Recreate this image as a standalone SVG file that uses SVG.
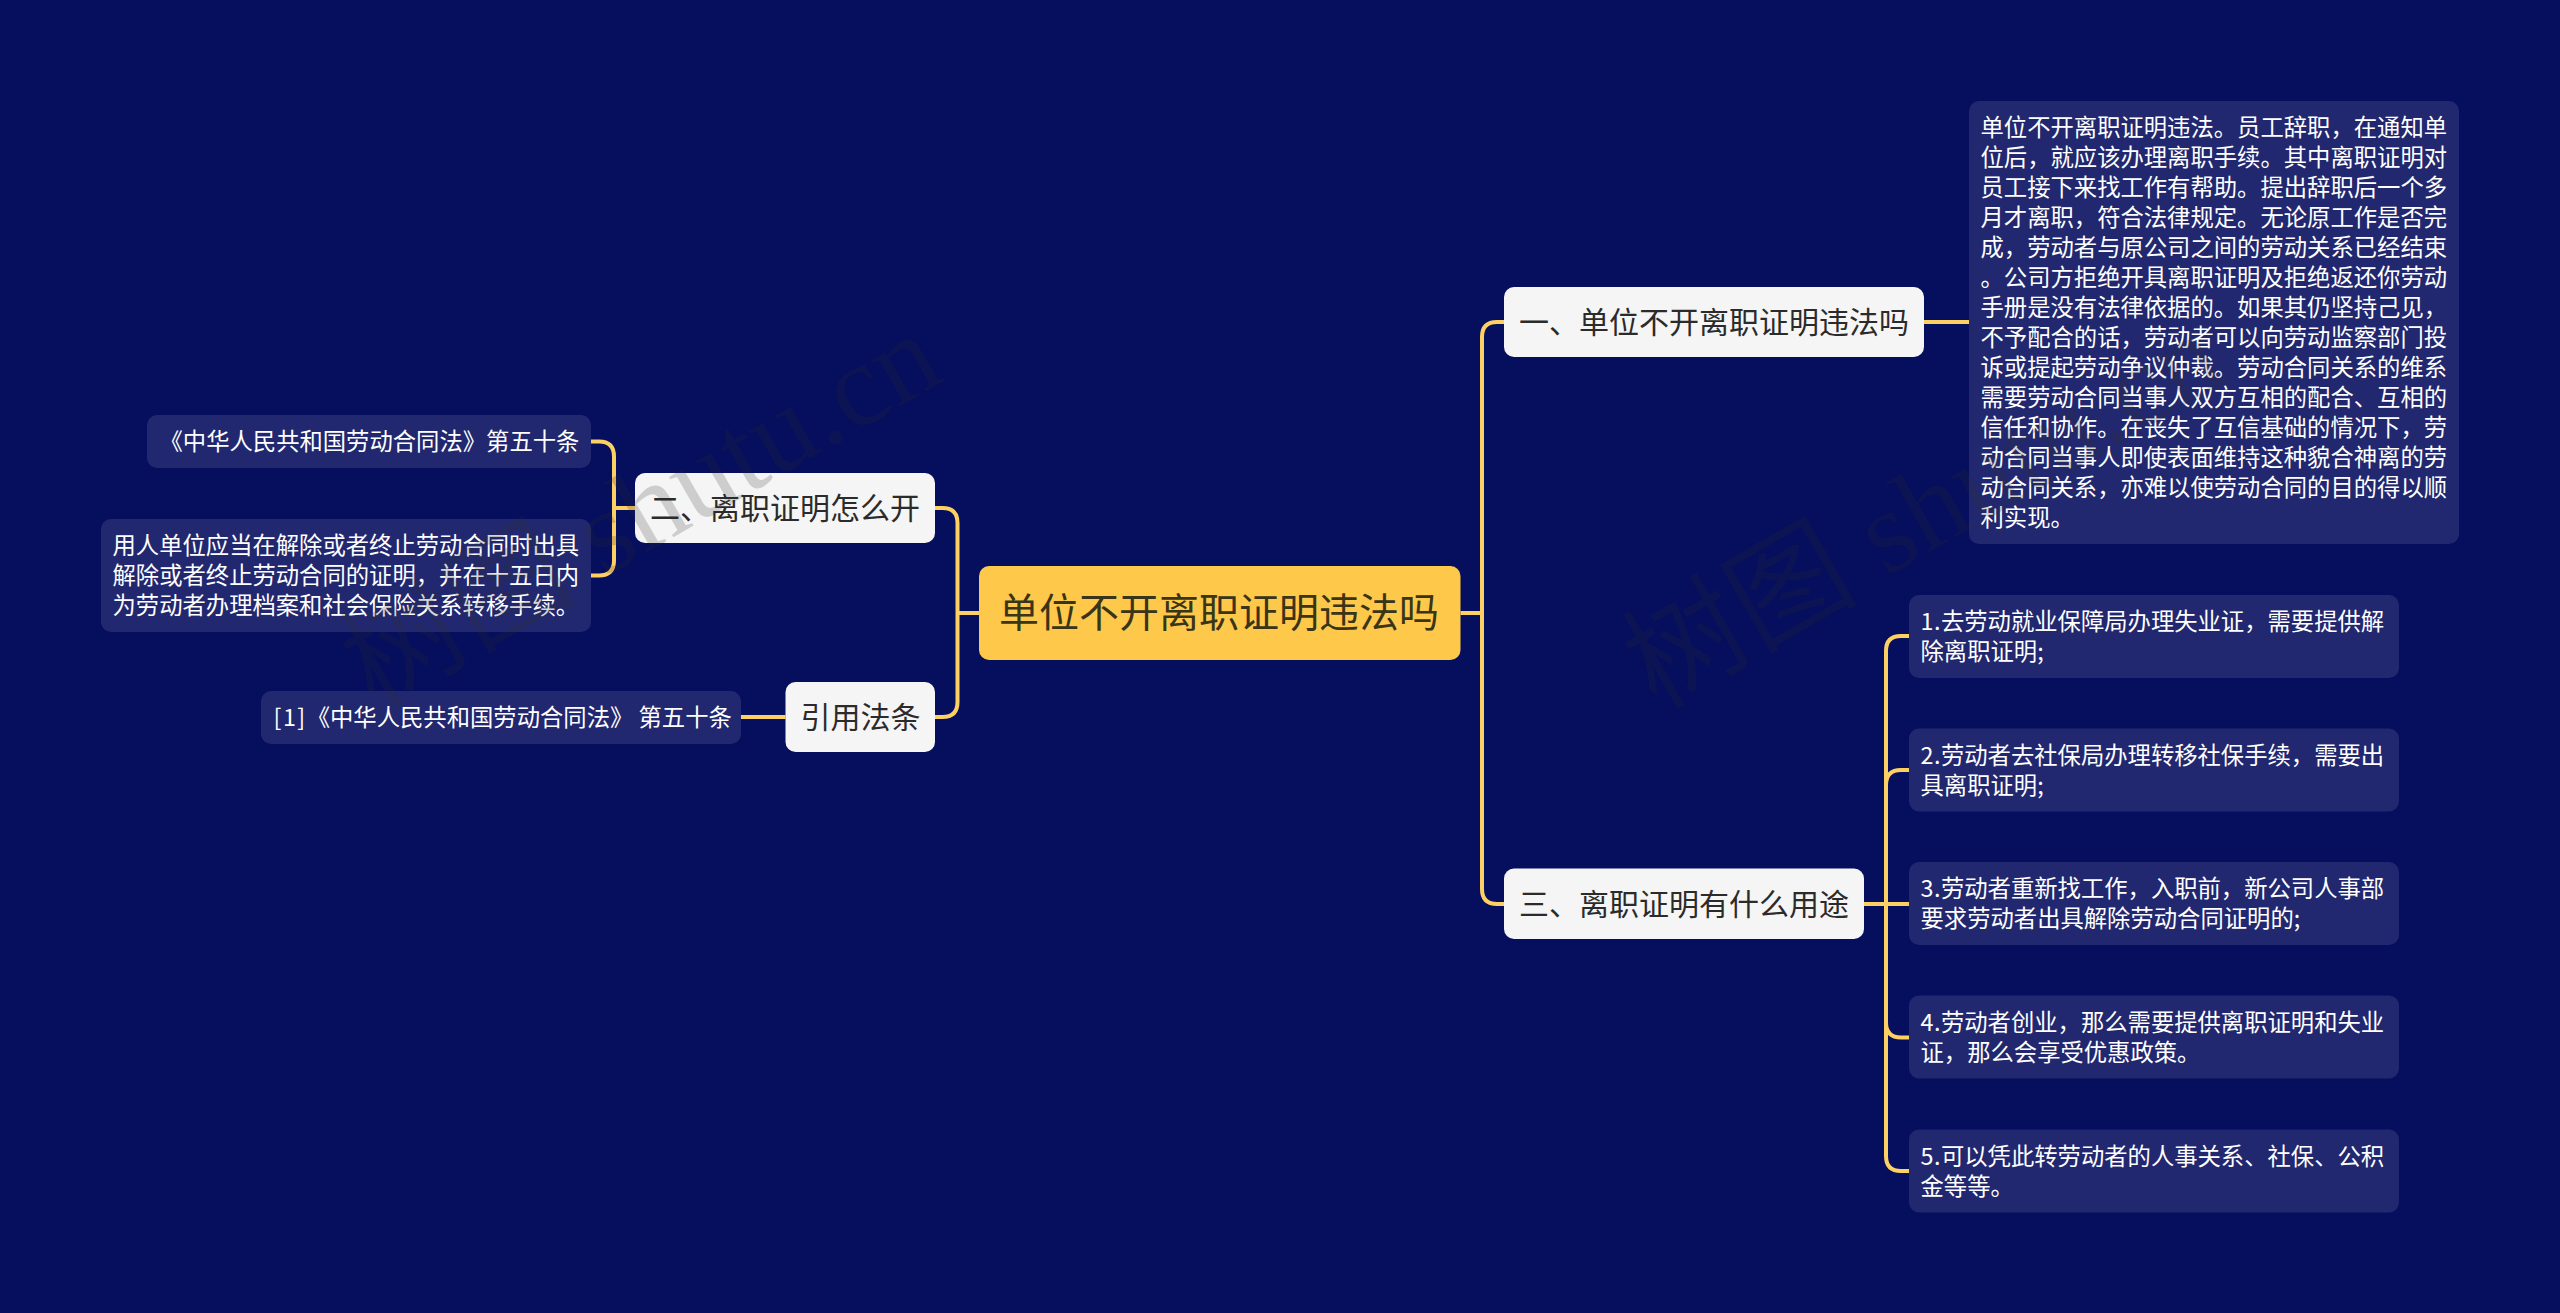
<svg xmlns="http://www.w3.org/2000/svg" width="2560" height="1313" viewBox="0 0 2560 1313">
<style>
text{font-family:"Noto Sans CJK SC","Noto Sans",sans-serif}
.conn{fill:none;stroke:#fdd064;stroke-width:4;stroke-linecap:butt}
.root rect{fill:#fec84a}
.root text{font-size:40px;fill:#3a3418}
.main rect{fill:#f5f5f5}
.main text{font-size:30px;fill:#2b2b2b}
.leaf rect{fill:#22286f}
.leaf text{font-size:23.33px;fill:#ffffff}
.num{letter-spacing:.5px}
.wm{font-family:"Liberation Serif","Noto Sans CJK SC",serif;font-size:118px;fill:#2b2b2b;fill-opacity:.2}
</style>
<rect width="2560" height="1313" fill="#060e5e"/>
<g id="connectors" class="conn">
<path d="M979 613H957.5M957.5 613V523Q957.5 508 942.5 508H935M957.5 613V702Q957.5 717 942.5 717H935"/>
<path d="M1460.500 613H1482M1482 613V337Q1482 322 1497 322H1504M1482 613V889Q1482 904 1497 904H1504"/>
<path d="M1924 322H1969"/>
<path d="M635 508H614M614 508V456.500Q614 441.500 599 441.500H591M614 508V560.500Q614 575.500 599 575.500H591"/>
<path d="M785.500 717H741"/>
<path d="M1864 904H1909M1886 904V651Q1886 636 1901 636H1909M1886 904V785Q1886 770 1901 770H1909M1886 904V1022.500Q1886 1037.500 1901 1037.500H1909M1886 904V1156Q1886 1171 1901 1171H1909"/>
</g>
<g id="node-root" class="root"><rect x="979" y="566" width="481.500" height="94" rx="10"/><text x="999" y="627">单位不开离职证明违法吗</text></g>
<g id="node-1" class="main"><rect x="1504" y="287" width="420" height="70" rx="10"/><text x="1519" y="333">一、单位不开离职证明违法吗</text></g>
<g id="node-2" class="main"><rect x="635" y="473" width="300" height="70" rx="10"/><text x="650" y="519">二、离职证明怎么开</text></g>
<g id="node-law" class="main"><rect x="785.500" y="682" width="149.500" height="70" rx="10"/><text x="800.500" y="728">引用法条</text></g>
<g id="node-3" class="main"><rect x="1504" y="868.500" width="360" height="70.500" rx="10"/><text x="1519" y="915">三、离职证明有什么用途</text></g>
<g id="leaf-1" class="leaf"><rect x="1969" y="101" width="490" height="443" rx="10"/>
<text x="1980.500" y="136">单位不开离职证明违法。员工辞职，在通知单</text>
<text x="1980.500" y="166">位后，就应该办理离职手续。其中离职证明对</text>
<text x="1980.500" y="196">员工接下来找工作有帮助。提出辞职后一个多</text>
<text x="1980.500" y="226">月才离职，符合法律规定。无论原工作是否完</text>
<text x="1980.500" y="256">成，劳动者与原公司之间的劳动关系已经结束</text>
<text x="1980.500" y="286">。公司方拒绝开具离职证明及拒绝返还你劳动</text>
<text x="1980.500" y="316">手册是没有法律依据的。如果其仍坚持己见，</text>
<text x="1980.500" y="346">不予配合的话，劳动者可以向劳动监察部门投</text>
<text x="1980.500" y="376">诉或提起劳动争议仲裁。劳动合同关系的维系</text>
<text x="1980.500" y="406">需要劳动合同当事人双方互相的配合、互相的</text>
<text x="1980.500" y="436">信任和协作。在丧失了互信基础的情况下，劳</text>
<text x="1980.500" y="466">动合同当事人即使表面维持这种貌合神离的劳</text>
<text x="1980.500" y="496">动合同关系，亦难以使劳动合同的目的得以顺</text>
<text x="1980.500" y="526">利实现。</text></g>
<g id="leaf-2" class="leaf"><rect x="1909" y="595" width="490" height="83" rx="10"/><text x="1920.500" y="630"><tspan class="num">1.</tspan>去劳动就业保障局办理失业证，需要提供解</text><text x="1920.500" y="660">除离职证明;</text></g>
<g id="leaf-3" class="leaf"><rect x="1909" y="728.500" width="490" height="83" rx="10"/><text x="1920.500" y="764"><tspan class="num">2.</tspan>劳动者去社保局办理转移社保手续，需要出</text><text x="1920.500" y="794">具离职证明;</text></g>
<g id="leaf-4" class="leaf"><rect x="1909" y="862" width="490" height="83" rx="10"/><text x="1920.500" y="897"><tspan class="num">3.</tspan>劳动者重新找工作，入职前，新公司人事部</text><text x="1920.500" y="927">要求劳动者出具解除劳动合同证明的;</text></g>
<g id="leaf-5" class="leaf"><rect x="1909" y="995.500" width="490" height="83" rx="10"/><text x="1920.500" y="1031"><tspan class="num">4.</tspan>劳动者创业，那么需要提供离职证明和失业</text><text x="1920.500" y="1061">证，那么会享受优惠政策。</text></g>
<g id="leaf-6" class="leaf"><rect x="1909" y="1129.500" width="490" height="83" rx="10"/><text x="1920.500" y="1164.500"><tspan class="num">5.</tspan>可以凭此转劳动者的人事关系、社保、公积</text><text x="1920.500" y="1194.500">金等等。</text></g>
<g id="leaf-7" class="leaf"><rect x="147" y="415" width="444" height="53" rx="10"/><text x="159.500" y="450">《中华人民共和国劳动合同法》第五十条</text></g>
<g id="leaf-8" class="leaf"><rect x="101" y="519" width="490" height="113" rx="10"/><text x="112.500" y="554">用人单位应当在解除或者终止劳动合同时出具</text><text x="112.500" y="584">解除或者终止劳动合同的证明，并在十五日内</text><text x="112.500" y="614">为劳动者办理档案和社会保险关系转移手续。</text></g>
<g id="leaf-9" class="leaf"><rect x="261" y="691" width="480" height="53" rx="10"/><text x="273.500" y="726"><tspan letter-spacing="1.5">[1]</tspan>《中华人民共和国劳动合同法》 第五十条</text></g>
<g id="watermarks"><text class="wm" transform="translate(374 710) rotate(-30)">树图 shutu.cn</text><text class="wm" transform="translate(1656 710) rotate(-30)">树图 shutu.cn</text></g>
</svg>
